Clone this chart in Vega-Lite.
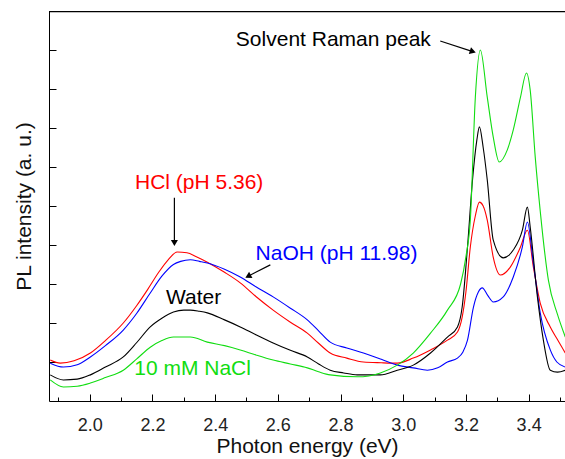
{
  "$schema": "https://vega.github.io/schema/vega-lite/v6.json",
  "autosize": {"type": "none"},
  "padding": {"left": 49, "top": 11, "right": 0, "bottom": 58},
  "width": 516,
  "height": 390,
  "background": "white",
  "config": {
    "view": {"stroke": null},
    "font": "Liberation Sans",
    "axis": {"grid": false, "domainColor": "black", "tickColor": "black", "labelColor": "#222", "titleColor": "#111", "titleFontWeight": "normal", "labelFont": "Liberation Sans", "titleFont": "Liberation Sans"}
  },
  "datasets": {
    "curves": [
      {"s":"HCl","x":1.874,"y":1.05},{"s":"HCl","x":1.906,"y":0.97},{"s":"HCl","x":1.95,"y":1.03},{"s":"HCl","x":2.002,"y":1.23},{"s":"HCl","x":2.05,"y":1.55},{"s":"HCl","x":2.107,"y":2.0},{"s":"HCl","x":2.15,"y":2.45},{"s":"HCl","x":2.184,"y":2.85},{"s":"HCl","x":2.22,"y":3.3},{"s":"HCl","x":2.25,"y":3.62},{"s":"HCl","x":2.279,"y":3.82},{"s":"HCl","x":2.31,"y":3.8},{"s":"HCl","x":2.34,"y":3.7},{"s":"HCl","x":2.375,"y":3.56},{"s":"HCl","x":2.43,"y":3.3},{"s":"HCl","x":2.48,"y":3.03},{"s":"HCl","x":2.53,"y":2.68},{"s":"HCl","x":2.585,"y":2.33},{"s":"HCl","x":2.64,"y":2.02},{"s":"HCl","x":2.694,"y":1.74},{"s":"HCl","x":2.73,"y":1.48},{"s":"HCl","x":2.767,"y":1.23},{"s":"HCl","x":2.82,"y":1.1},{"s":"HCl","x":2.873,"y":1.0},{"s":"HCl","x":2.93,"y":0.98},{"s":"HCl","x":2.981,"y":0.97},{"s":"HCl","x":3.032,"y":1.1},{"s":"HCl","x":3.087,"y":1.31},{"s":"HCl","x":3.141,"y":1.56},{"s":"HCl","x":3.173,"y":1.77},{"s":"HCl","x":3.188,"y":2.15},{"s":"HCl","x":3.2,"y":2.8},{"s":"HCl","x":3.214,"y":3.95},{"s":"HCl","x":3.23,"y":4.75},{"s":"HCl","x":3.243,"y":5.1},{"s":"HCl","x":3.255,"y":5.0},{"s":"HCl","x":3.268,"y":4.64},{"s":"HCl","x":3.287,"y":3.69},{"s":"HCl","x":3.31,"y":3.23},{"s":"HCl","x":3.342,"y":3.44},{"s":"HCl","x":3.374,"y":3.95},{"s":"HCl","x":3.396,"y":4.38},{"s":"HCl","x":3.415,"y":3.44},{"s":"HCl","x":3.437,"y":2.51},{"s":"HCl","x":3.469,"y":1.9},{"s":"HCl","x":3.49,"y":1.6},{"s":"HCl","x":3.517,"y":1.23},

      {"s":"NaOH","x":1.874,"y":0.97},{"s":"NaOH","x":1.916,"y":0.87},{"s":"NaOH","x":1.96,"y":0.93},{"s":"NaOH","x":2.002,"y":1.13},{"s":"NaOH","x":2.05,"y":1.42},{"s":"NaOH","x":2.107,"y":1.82},{"s":"NaOH","x":2.15,"y":2.25},{"s":"NaOH","x":2.193,"y":2.77},{"s":"NaOH","x":2.23,"y":3.2},{"s":"NaOH","x":2.267,"y":3.5},{"s":"NaOH","x":2.29,"y":3.58},{"s":"NaOH","x":2.321,"y":3.62},{"s":"NaOH","x":2.35,"y":3.58},{"s":"NaOH","x":2.375,"y":3.54},{"s":"NaOH","x":2.43,"y":3.38},{"s":"NaOH","x":2.48,"y":3.18},{"s":"NaOH","x":2.53,"y":2.93},{"s":"NaOH","x":2.585,"y":2.67},{"s":"NaOH","x":2.64,"y":2.38},{"s":"NaOH","x":2.694,"y":2.08},{"s":"NaOH","x":2.73,"y":1.8},{"s":"NaOH","x":2.767,"y":1.51},{"s":"NaOH","x":2.82,"y":1.36},{"s":"NaOH","x":2.873,"y":1.23},{"s":"NaOH","x":2.93,"y":1.07},{"s":"NaOH","x":2.981,"y":0.92},{"s":"NaOH","x":3.032,"y":0.85},{"s":"NaOH","x":3.077,"y":0.79},{"s":"NaOH","x":3.11,"y":0.85},{"s":"NaOH","x":3.141,"y":1.0},{"s":"NaOH","x":3.173,"y":1.1},{"s":"NaOH","x":3.19,"y":1.25},{"s":"NaOH","x":3.205,"y":1.56},{"s":"NaOH","x":3.224,"y":2.41},{"s":"NaOH","x":3.24,"y":2.8},{"s":"NaOH","x":3.252,"y":2.9},{"s":"NaOH","x":3.27,"y":2.7},{"s":"NaOH","x":3.287,"y":2.54},{"s":"NaOH","x":3.319,"y":2.67},{"s":"NaOH","x":3.351,"y":3.18},{"s":"NaOH","x":3.38,"y":3.95},{"s":"NaOH","x":3.396,"y":4.59},{"s":"NaOH","x":3.415,"y":3.54},{"s":"NaOH","x":3.437,"y":2.26},{"s":"NaOH","x":3.469,"y":1.31},{"s":"NaOH","x":3.49,"y":1.0},{"s":"NaOH","x":3.517,"y":0.87},

      {"s":"Water","x":1.874,"y":0.67},{"s":"Water","x":1.916,"y":0.54},{"s":"Water","x":1.96,"y":0.56},{"s":"Water","x":2.002,"y":0.67},{"s":"Water","x":2.05,"y":0.87},{"s":"Water","x":2.107,"y":1.13},{"s":"Water","x":2.15,"y":1.5},{"s":"Water","x":2.193,"y":1.9},{"s":"Water","x":2.23,"y":2.12},{"s":"Water","x":2.267,"y":2.28},{"s":"Water","x":2.3,"y":2.33},{"s":"Water","x":2.321,"y":2.33},{"s":"Water","x":2.35,"y":2.3},{"s":"Water","x":2.375,"y":2.26},{"s":"Water","x":2.43,"y":2.08},{"s":"Water","x":2.48,"y":1.9},{"s":"Water","x":2.53,"y":1.7},{"s":"Water","x":2.585,"y":1.49},{"s":"Water","x":2.64,"y":1.3},{"s":"Water","x":2.694,"y":1.13},{"s":"Water","x":2.73,"y":0.95},{"s":"Water","x":2.767,"y":0.79},{"s":"Water","x":2.81,"y":0.72},{"s":"Water","x":2.853,"y":0.67},{"s":"Water","x":2.927,"y":0.67},{"s":"Water","x":2.981,"y":0.79},{"s":"Water","x":3.032,"y":0.92},{"s":"Water","x":3.087,"y":1.23},{"s":"Water","x":3.141,"y":1.64},{"s":"Water","x":3.173,"y":1.9},{"s":"Water","x":3.188,"y":2.41},{"s":"Water","x":3.205,"y":3.95},{"s":"Water","x":3.221,"y":5.67},{"s":"Water","x":3.235,"y":6.7},{"s":"Water","x":3.243,"y":7.03},{"s":"Water","x":3.255,"y":6.5},{"s":"Water","x":3.268,"y":5.67},{"s":"Water","x":3.287,"y":4.13},{"s":"Water","x":3.319,"y":3.67},{"s":"Water","x":3.351,"y":3.87},{"s":"Water","x":3.38,"y":4.38},{"s":"Water","x":3.396,"y":4.97},{"s":"Water","x":3.405,"y":4.46},{"s":"Water","x":3.428,"y":2.67},{"s":"Water","x":3.447,"y":1.56},{"s":"Water","x":3.469,"y":0.79},{"s":"Water","x":3.492,"y":0.74},{"s":"Water","x":3.517,"y":0.79},

      {"s":"NaCl","x":1.874,"y":0.54},{"s":"NaCl","x":1.916,"y":0.36},{"s":"NaCl","x":1.96,"y":0.38},{"s":"NaCl","x":2.002,"y":0.46},{"s":"NaCl","x":2.05,"y":0.6},{"s":"NaCl","x":2.107,"y":0.79},{"s":"NaCl","x":2.15,"y":1.08},{"s":"NaCl","x":2.193,"y":1.38},{"s":"NaCl","x":2.23,"y":1.55},{"s":"NaCl","x":2.267,"y":1.64},{"s":"NaCl","x":2.321,"y":1.64},{"s":"NaCl","x":2.375,"y":1.51},{"s":"NaCl","x":2.43,"y":1.42},{"s":"NaCl","x":2.48,"y":1.31},{"s":"NaCl","x":2.53,"y":1.18},{"s":"NaCl","x":2.585,"y":1.05},{"s":"NaCl","x":2.64,"y":0.95},{"s":"NaCl","x":2.694,"y":0.85},{"s":"NaCl","x":2.73,"y":0.75},{"s":"NaCl","x":2.767,"y":0.67},{"s":"NaCl","x":2.853,"y":0.62},{"s":"NaCl","x":2.927,"y":0.72},{"s":"NaCl","x":2.981,"y":0.92},{"s":"NaCl","x":3.032,"y":1.23},{"s":"NaCl","x":3.087,"y":1.74},{"s":"NaCl","x":3.141,"y":2.33},{"s":"NaCl","x":3.183,"y":3.0},{"s":"NaCl","x":3.2,"y":3.7},{"s":"NaCl","x":3.214,"y":4.64},{"s":"NaCl","x":3.23,"y":7.79},{"s":"NaCl","x":3.246,"y":9.0},{"s":"NaCl","x":3.268,"y":7.79},{"s":"NaCl","x":3.287,"y":6.77},{"s":"NaCl","x":3.306,"y":6.13},{"s":"NaCl","x":3.332,"y":6.44},{"s":"NaCl","x":3.351,"y":6.95},{"s":"NaCl","x":3.374,"y":7.79},{"s":"NaCl","x":3.393,"y":8.41},{"s":"NaCl","x":3.405,"y":7.97},{"s":"NaCl","x":3.421,"y":6.26},{"s":"NaCl","x":3.437,"y":4.87},{"s":"NaCl","x":3.463,"y":3.1},{"s":"NaCl","x":3.492,"y":2.22},{"s":"NaCl","x":3.517,"y":1.64}
    ],
    "notes": [
      {"t":"Solvent Raman peak","s":"note","x":2.777,"y":9.26},
      {"t":"HCl (pH 5.36)","s":"HCl","x":2.349,"y":5.59},
      {"t":"NaOH (pH 11.98)","s":"NaOH","x":2.787,"y":3.77},
      {"t":"Water","s":"Water","x":2.331,"y":2.64},
      {"t":"10 mM NaCl","s":"NaCl","x":2.328,"y":0.82}
    ],
    "arrows": [
      {"x":3.118,"y":9.23,"x2":3.222,"y2":8.96,"angle":18},
      {"x":2.27,"y":5.21,"x2":2.27,"y2":4.05,"angle":90},
      {"x":2.576,"y":3.49,"x2":2.505,"y2":3.2,"angle":152}
    ],
    "frame": [{"x": 1.87, "x2": 3.516, "y": 9.985}]
  },
  "layer": [
    {
      "data": {"name": "curves"},
      "mark": {"type": "line", "strokeWidth": 1.1, "clip": true, "interpolate": "monotone"},
      "encoding": {
        "x": {"field": "x", "type": "quantitative", "scale": {"domain": [1.87, 3.516], "nice": false, "zero": false},
          "axis": {"orient": "bottom", "values": [1.9,2.0,2.1,2.2,2.3,2.4,2.5,2.6,2.7,2.8,2.9,3.0,3.1,3.2,3.3,3.4,3.5],
            "labelExpr": "round(datum.value*10) % 2 == 0 ? format(datum.value, '.1f') : ''",
            "tickSize": {"condition": {"test": "round(datum.value*10) % 2 == 0", "value": -7}, "value": -4},
            "labelFontSize": 18, "labelPadding": 19, "labelBaseline": "line-top", "labelLineHeight": 24,
            "title": "Photon energy (eV)", "titleFontSize": 21, "titlePadding": 1}},
        "y": {"field": "y", "type": "quantitative", "scale": {"domain": [0, 10], "nice": false, "zero": false},
          "axis": {"values": [1,2,3,4,5,6,7,8,9], "labels": false, "tickSize": -7, "title": "PL intensity (a. u.)", "titleFontSize": 21, "titlePadding": 14}},
        "color": {"field": "s", "type": "nominal", "legend": null,
          "scale": {"domain": ["HCl","NaOH","Water","NaCl","note"], "range": ["#ff0000","#0000ff","#000000","#11dd11","#000000"]}}
      }
    },
    {
      "data": {"name": "frame"},
      "mark": {"type": "rule", "color": "black", "strokeWidth": 1.3},
      "encoding": {
        "x": {"field": "x", "type": "quantitative", "axis": null},
        "x2": {"field": "x2"},
        "y": {"field": "y", "type": "quantitative", "axis": {"title": "PL intensity (a. u.)"}}
      }
    },
    {
      "data": {"name": "arrows"},
      "mark": {"type": "rule", "color": "black", "strokeWidth": 1.2},
      "encoding": {
        "x": {"field": "x", "type": "quantitative", "axis": null},
        "y": {"field": "y", "type": "quantitative", "axis": {"title": "PL intensity (a. u.)"}},
        "x2": {"field": "x2"},
        "y2": {"field": "y2"}
      }
    },
    {
      "data": {"name": "arrows"},
      "mark": {"type": "point", "shape": "triangle-right", "filled": true, "color": "black", "size": 50, "opacity": 1},
      "encoding": {
        "x": {"field": "x2", "type": "quantitative", "axis": null},
        "y": {"field": "y2", "type": "quantitative", "axis": {"title": "PL intensity (a. u.)"}},
        "angle": {"field": "angle", "type": "quantitative", "scale": null}
      }
    },
    {
      "data": {"name": "notes"},
      "mark": {"type": "text", "fontSize": 21, "align": "center", "baseline": "middle", "font": "Liberation Sans"},
      "encoding": {
        "x": {"field": "x", "type": "quantitative", "axis": null},
        "y": {"field": "y", "type": "quantitative", "axis": {"title": "PL intensity (a. u.)"}},
        "text": {"field": "t"},
        "color": {"field": "s", "type": "nominal", "legend": null}
      }
    }
  ],
  "resolve": {"axis": {"x": "independent"}}
}
